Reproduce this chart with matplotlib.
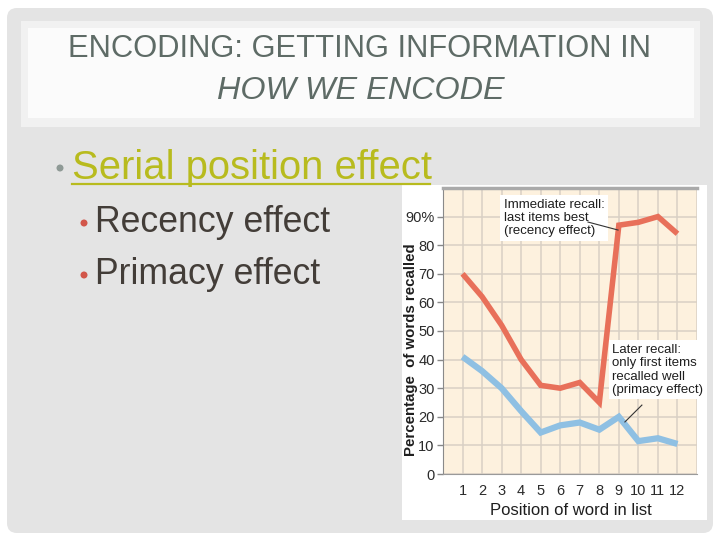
import matplotlib
matplotlib.use("Agg")
import matplotlib.pyplot as plt
from matplotlib.patches import FancyBboxPatch, Rectangle, Circle

# Serial position curve data
positions = [1, 2, 3, 4, 5, 6, 7, 8, 9, 10, 11, 12]
immediate_recall = [70, 62, 52, 40, 31, 30, 32, 25, 87, 88, 90, 84]
later_recall = [41, 36, 30, 22, 14.5, 17, 18, 15.5, 20, 11.5, 12.5, 10.5]
y_ticks = [0, 10, 20, 30, 40, 50, 60, 70, 80, 90]
y_tick_labels = ["0", "10", "20", "30", "40", "50", "60", "70", "80", "90%"]

title_line1 = "ENCODING: GETTING INFORMATION IN"
title_line2 = "HOW WE ENCODE"
main_bullet = "Serial position effect"
sub_bullets = ["Recency effect", "Primacy effect"]

plt.rcParams["font.family"] = ["Liberation Sans", "DejaVu Sans"]

fig = plt.figure(figsize=(7.2, 5.4), dpi=100)
fig.patch.set_facecolor("white")

# --- slide background, pixel coordinates ---
bg = fig.add_axes([0, 0, 1, 1])
bg.set_xlim(0, 720)
bg.set_ylim(540, 0)
bg.axis("off")

bg.add_patch(FancyBboxPatch((7, 8), 706, 525, boxstyle="round,pad=0,rounding_size=10",
                            fc="#e4e4e4", ec="none"))
bg.add_patch(Rectangle((21, 21), 679, 106, fc="#f1f1f1", ec="none"))
bg.add_patch(Rectangle((28, 28), 666, 90, fc="#fbfbfb", ec="none"))

title_color = "#5e6b66"
bg.text(360, 57, title_line1, ha="center", va="baseline", fontsize=22.2, color=title_color)
bg.text(361, 99, title_line2, ha="center", va="baseline", fontsize=23.3,
        style="italic", color=title_color)

# bullets
bg.add_patch(Circle((60, 168), 3.5, fc="#8f9a96", ec="none"))
bg.text(72, 179, main_bullet, ha="left", va="baseline", fontsize=28.8, color="#b8bb1e")
bg.plot([72, 430], [184, 184], color="#b8bb1e", lw=1.6)

for i, label in enumerate(sub_bullets):
    y = 232 + i * 52
    bg.add_patch(Circle((84, y - 9), 3.5, fc="#d2564a", ec="none"))
    bg.text(95, y, label, ha="left", va="baseline", fontsize=25.7, color="#433d38")

# white panel behind the chart picture
bg.add_patch(Rectangle((402, 185), 305, 335, fc="white", ec="none"))

# --- the chart ---
ax = fig.add_axes([443 / 720, 66 / 540, 254 / 720, 286 / 540])
ax.set_facecolor("#fdf1de")
ax.set_xlim(0, 13)
ax.set_ylim(0, 100)

ax.set_xticks(range(0, 14))
ax.set_xticklabels([""] + [str(p) for p in positions] + [""])
ax.set_yticks(y_ticks)
ax.set_yticklabels(y_tick_labels)
ax.grid(True, color="#d9d0c4", lw=1.1)
ax.set_axisbelow(True)

ax.tick_params(axis="x", length=0, pad=7, labelsize=10.5, colors="#2a2a2a")
ax.tick_params(axis="y", length=4, width=1, color="#888888", pad=2,
               labelsize=10.5, labelcolor="#2a2a2a")

ax.spines["right"].set_visible(False)
ax.spines["top"].set_color("#aaaaaa")
ax.spines["top"].set_linewidth(2.5)
ax.spines["left"].set_color("#8a8a8a")
ax.spines["bottom"].set_color("#9a9a9a")

ax.plot(positions, immediate_recall, color="#e8705a", lw=4, solid_joinstyle="miter",
        solid_capstyle="butt", zorder=3)
ax.plot(positions, later_recall, color="#8fc0e3", lw=4.5, solid_joinstyle="miter",
        solid_capstyle="butt", zorder=3)

ax.set_ylabel("Percentage  of words recalled", fontsize=10.8, fontweight="bold",
              color="#1e1e1e")
ax.yaxis.set_label_coords(-0.098, 0.434)
ax.set_xlabel("Position of word in list", fontsize=12, color="#1e1e1e")
ax.xaxis.set_label_coords(0.504, -0.10)

ax.text(3.1, 96.3, "Immediate recall:\nlast items best\n(recency effect)", ha="left",
        va="top", fontsize=9.5, color="#1e1e1e", linespacing=1.15, zorder=4,
        bbox=dict(fc="white", ec="none", pad=2.5))
ax.plot([7.42, 8.96], [88.1, 85.3], color="#333333", lw=0.8, zorder=5)

ax.text(8.65, 45.5, "Later recall:\nonly first items\nrecalled well\n(primacy effect)",
        ha="left", va="top", fontsize=9.5, color="#1e1e1e", linespacing=1.15, zorder=4,
        bbox=dict(fc="white", ec="none", pad=2.5))
ax.plot([10.18, 9.31], [24.1, 18.2], color="#333333", lw=0.8, zorder=5)

fig.savefig("out.png", dpi=100)
